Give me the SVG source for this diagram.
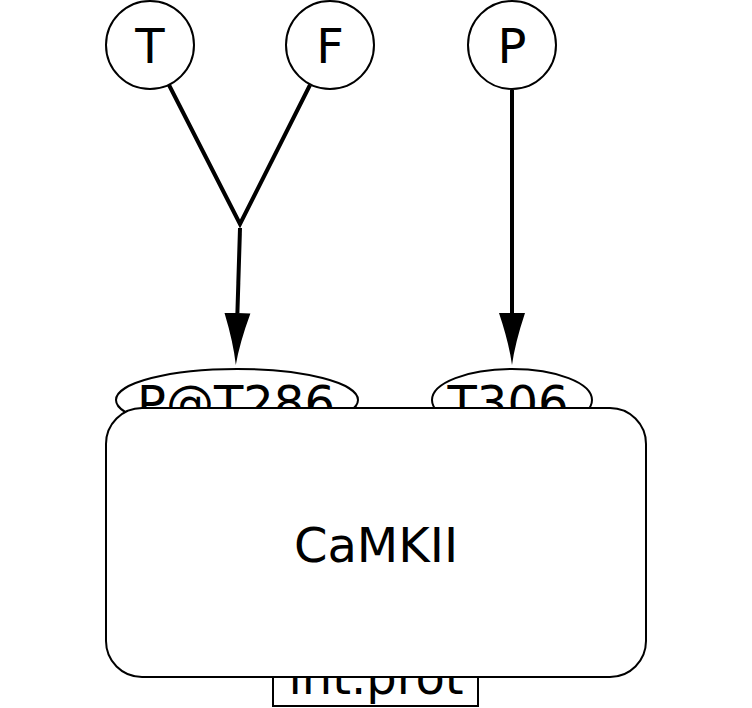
<svg xmlns="http://www.w3.org/2000/svg" width="752" height="708" viewBox="0 0 752 708">
<style>
.n{fill:#fff;stroke:#000;stroke-width:2}
.t{font-family:"DejaVu Sans",sans-serif;font-size:48px;text-anchor:middle;fill:#000}
.e{fill:none;stroke:#000;stroke-width:4}
</style>
<defs>
<marker id="ah" markerUnits="userSpaceOnUse" markerWidth="56" markerHeight="30" refX="0" refY="14" orient="auto" viewBox="0 0 56 28">
<path d="M52,14 Q30,11 0,1 L0,27 Q30,17 52,14Z" fill="#000"/>
</marker>
</defs>
<rect width="752" height="708" fill="#fff"/>
<g id="node-intprot">
<rect class="n" x="273" y="650" width="205" height="56"/>
<text class="t" x="376" y="694">int.prot</text>
</g>
<g id="node-pt286">
<ellipse class="n" cx="237" cy="400" rx="121" ry="31"/>
<text class="t" x="236" y="420">P@T286</text>
</g>
<g id="node-t306">
<ellipse class="n" cx="512" cy="400" rx="80" ry="31"/>
<text class="t" x="508" y="420">T306</text>
</g>
<g id="node-camkii">
<rect class="n" x="106" y="408" width="540" height="269" rx="36" ry="36"/>
<text class="t" x="376" y="562">CaMKII</text>
</g>
<g id="node-T">
<circle class="n" cx="150" cy="45" r="44"/>
<text class="t" x="150" y="63">T</text>
</g>
<g id="node-F">
<circle class="n" cx="330" cy="45" r="44"/>
<text class="t" x="330" y="63">F</text>
</g>
<g id="node-P">
<circle class="n" cx="512" cy="45" r="44"/>
<text class="t" x="512" y="63">P</text>
</g>
<g id="connectors">
<polyline class="e" points="169,85 240,224 310,85"/>
<line class="e" x1="240" y1="228" x2="237.4" y2="313" marker-end="url(#ah)"/>
<line class="e" x1="512" y1="90" x2="512" y2="313" marker-end="url(#ah)"/>
</g>
</svg>
